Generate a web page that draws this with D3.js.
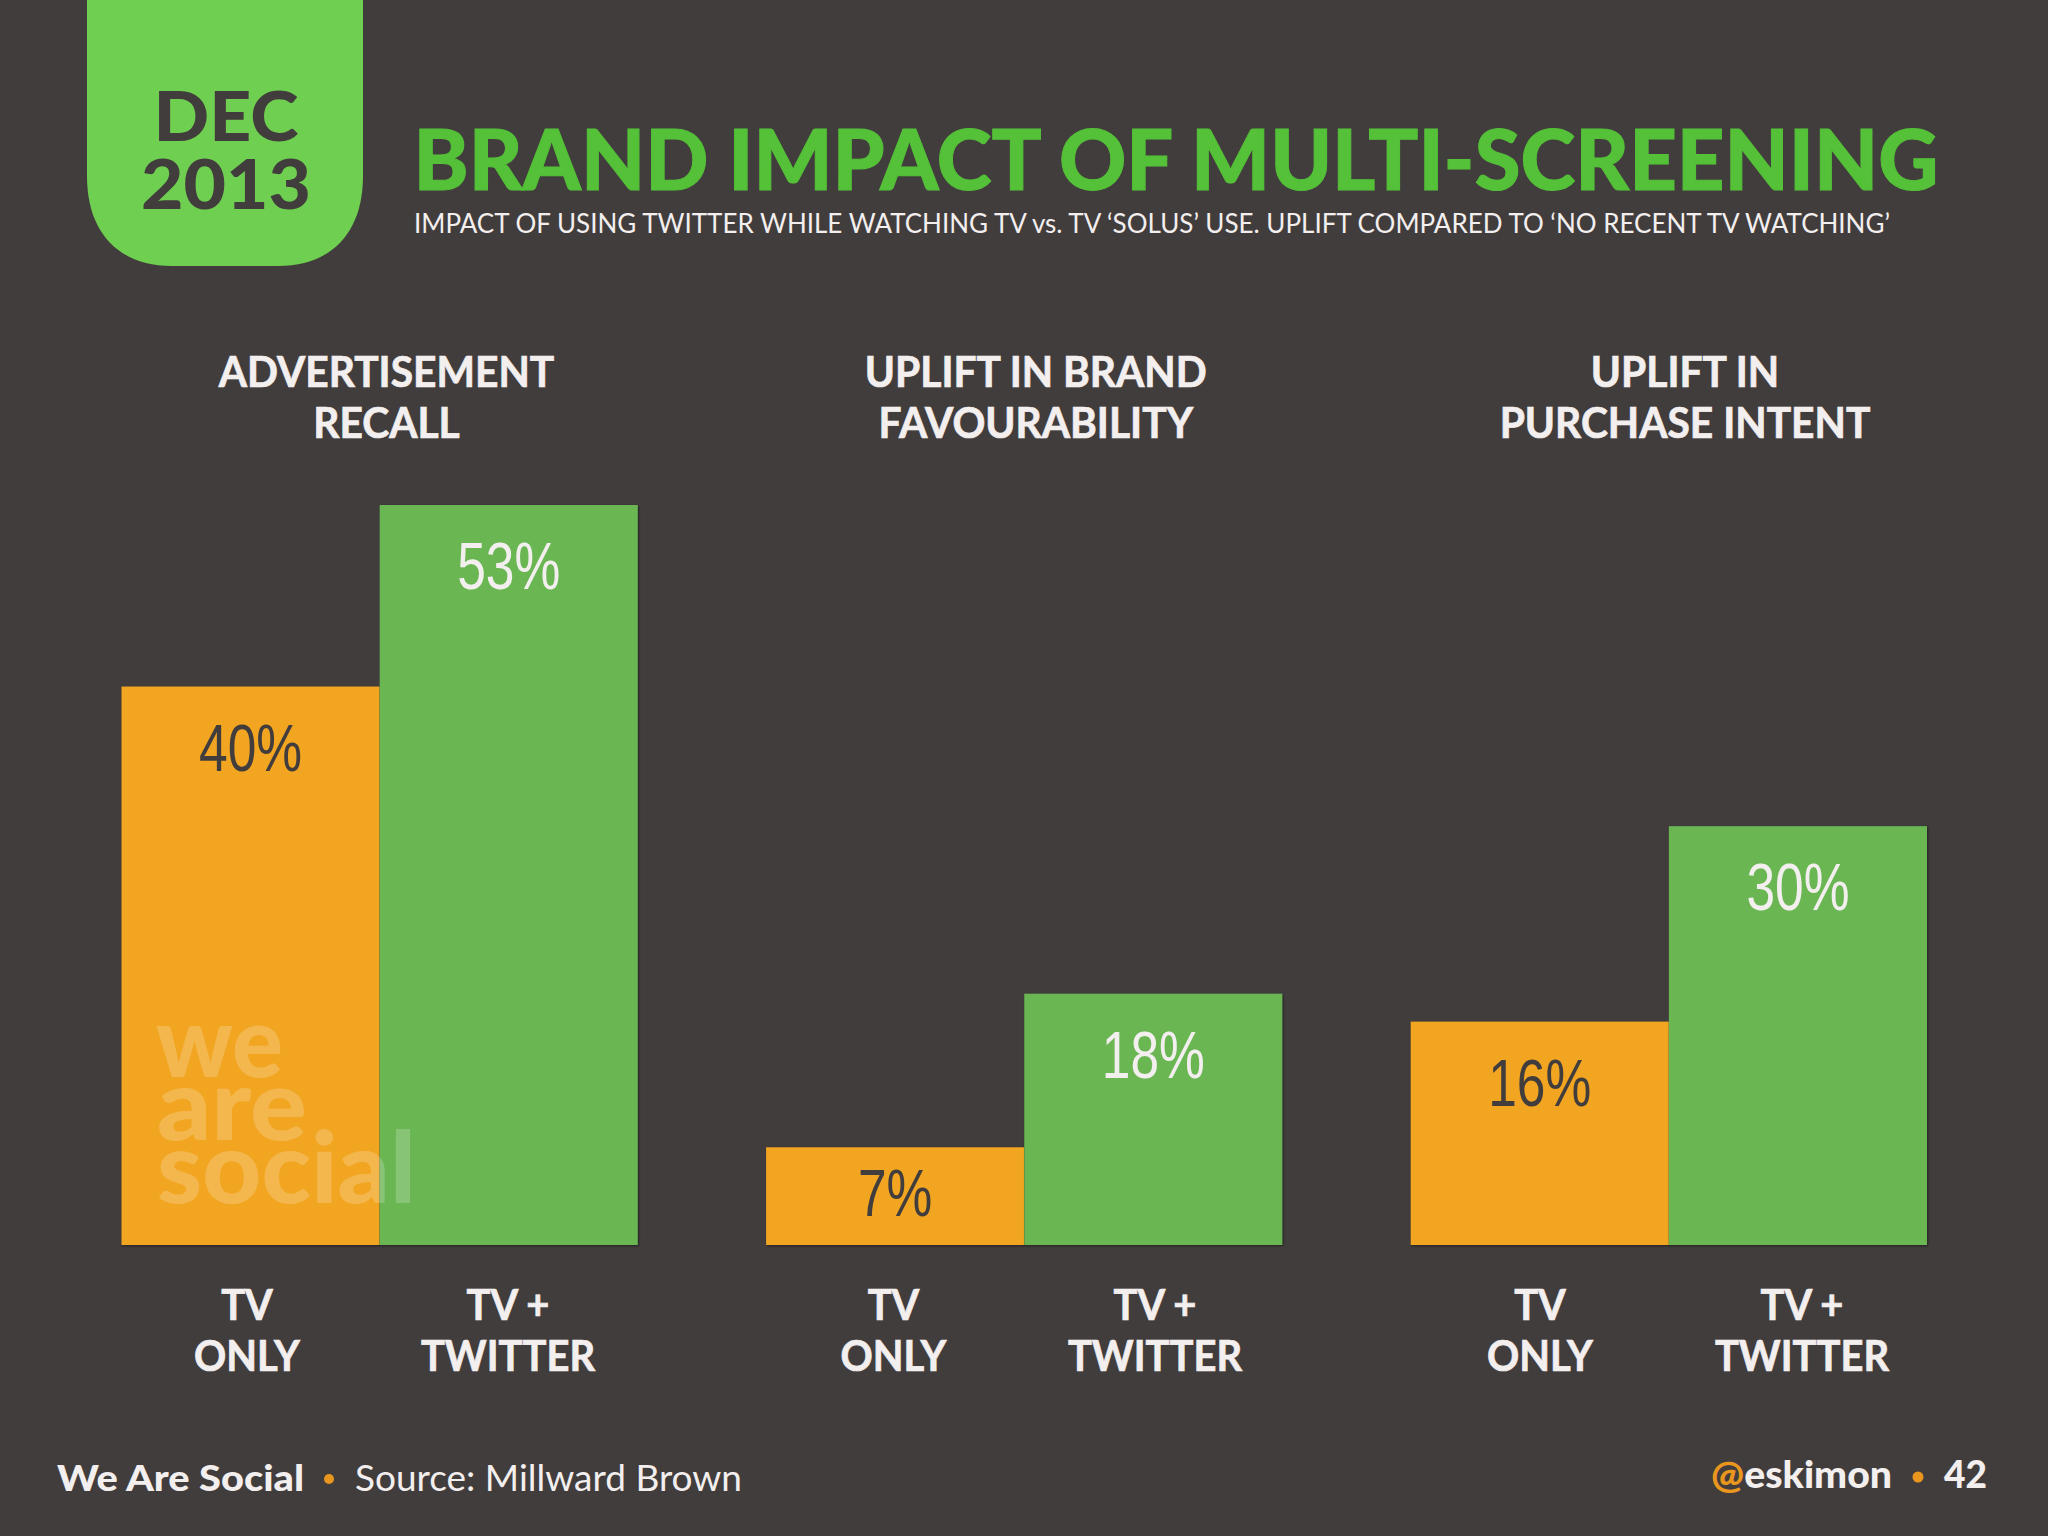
<!DOCTYPE html>
<html>
<head>
<meta charset="utf-8">
<title>Brand impact of multi-screening</title>
<script src="https://cdn.jsdelivr.net/npm/d3@7"></script>
<style>
	html, body { margin: 0; padding: 0; background: #423d3d; }
	svg { display: block; }
	text { font-family: Lato, "Noto Sans", sans-serif; }
	.heading, .tick { font-size: 42px; font-weight: 700; fill: #f3efef; stroke: #f3efef; stroke-width: 0.7px; text-anchor: middle; }
	.value { font-family: "Liberation Sans", sans-serif; font-size: 66px; text-anchor: middle; }
	.bar { filter: drop-shadow(1px 1px 1px rgba(0,0,0,.45)); }
</style>
</head>
<body>
<svg id="chart" width="2048" height="1536"></svg>
<script>
var panels     = ["recall", "favourability", "purchase"];
var headings   = [["ADVERTISEMENT", "RECALL"], ["UPLIFT IN BRAND", "FAVOURABILITY"], ["UPLIFT IN", "PURCHASE INTENT"]];
var categories = ["tv", "twitter"];
var catLabels  = [["TV", "ONLY"], ["TV +", "TWITTER"]];
var tvOnly     = [40, 7, 16];
var tvTwitter  = [53, 18, 30];

var BG     = "#423d3d";
var ORANGE = "#f2a521";
var GREEN  = "#69b653";
var LIGHT  = "#f3efef";

var svg = d3.select("#chart");
svg.append("rect").attr("width", 2048).attr("height", 1536).attr("fill", BG);

var panelX   = d3.scaleBand().domain(panels).range([121.5, 1927]).paddingInner(0.199);
var barX     = d3.scaleBand().domain(categories).range([0, panelX.bandwidth()]);
var y        = d3.scaleLinear().domain([0, 53]).range([1245, 505]);
// headings and labels sit on a slightly wider pitch than the bars
var headingX = d3.scalePoint().domain(panels).range([386.5, 1685]);
var tickX    = {
	tv:      d3.scalePoint().domain(panels).range([247, 1540]),
	twitter: d3.scalePoint().domain(panels).range([508, 1802])
};

// date tab
svg.append("path")
	.attr("d", "M87,0V176C87,232 118,266 172,266H278C332,266 363,232 363,176V0Z")
	.attr("fill", "#6fcf50");
label("DEC", 226, 141, {size: 68, weight: 900, fill: BG, anchor: "middle", fit: 145});
label("2013", 226, 209, {size: 68, weight: 900, fill: BG, anchor: "middle", fit: 170});

// title
label("BRAND IMPACT OF MULTI-SCREENING", 413.5, 190, {size: 84, weight: 900, fill: "#54c138", fit: 1525})
	.attr("stroke", "#54c138").attr("stroke-width", 1);
label("IMPACT OF USING TWITTER WHILE WATCHING TV vs. TV \u2018SOLUS\u2019 USE. UPLIFT COMPARED TO \u2018NO RECENT TV WATCHING\u2019",
	414, 233, {size: 27, weight: 400, fill: LIGHT, fit: 1476});

// one group per panel
var groups = svg.selectAll("g.panel").data(panels).enter().append("g")
	.attr("class", "panel")
	.attr("transform", function(d) { return "translate(" + panelX(d) + ",0)"; });

groups.each(function(d, i) {
	var g = d3.select(this);
	var values = [tvOnly[i], tvTwitter[i]];

	g.selectAll("rect").data(categories).enter().append("rect")
		.attr("class", "bar")
		.attr("x", function(c) { return barX(c); })
		.attr("y", function(c, j) { return y(values[j]); })
		.attr("width", barX.bandwidth())
		.attr("height", function(c, j) { return y(0) - y(values[j]); })
		.attr("fill", function(c, j) { return j === 0 ? ORANGE : GREEN; });

	g.selectAll("text.value").data(categories).enter().append("text")
		.attr("class", "value")
		.attr("x", function(c) { return barX(c) + barX.bandwidth() / 2; })
		.attr("y", function(c, j) { return y(values[j]) + Math.min(84, (y(0) - y(values[j])) * 0.7); })
		.attr("fill", function(c, j) { return j === 0 ? BG : LIGHT; })
		.text(function(c, j) { return values[j] + "%"; })
		.call(squeeze, 0.78);
});

// labels on top of the panels, in page coordinates
panels.forEach(function(p, i) {
	headings[i].forEach(function(line, k) {
		svg.append("text").attr("class", "heading")
			.attr("x", headingX(p))
			.attr("y", 387 + k * 51)
			.text(line)
			.call(squeeze, 0.97);
	});
	categories.forEach(function(c, j) {
		catLabels[j].forEach(function(line, k) {
			svg.append("text").attr("class", "tick")
				.attr("x", tickX[c](p))
				.attr("y", 1320 + k * 51)
				.text(line)
				.call(squeeze, 0.95);
		});
	});
});

// watermark
var mark = svg.append("g").attr("fill", "#fff").attr("opacity", 0.2);
label("we", 156, 1077, {size: 100, weight: 900, parent: mark, fit: 127});
label("are", 157, 1140, {size: 100, weight: 900, parent: mark, fit: 150});
label("social", 157, 1203, {size: 100, weight: 900, parent: mark, fit: 259});

// footer
label("We Are Social", 57, 1491, {size: 36, weight: 900, fill: LIGHT, fit: 247});
svg.append("circle").attr("cx", 329).attr("cy", 1479).attr("r", 5).attr("fill", "#e8961e");
label("Source: Millward Brown", 355, 1491, {size: 36, weight: 400, fill: LIGHT, fit: 387});
var handle = label("", 1711, 1488, {size: 38, weight: 900, fill: LIGHT, fit: 181});
handle.append("tspan").attr("fill", "#e8961e").text("@");
handle.append("tspan").text("eskimon");
svg.append("circle").attr("cx", 1918).attr("cy", 1477).attr("r", 5.5).attr("fill", "#e8961e");
label("42", 1944, 1488, {size: 38, weight: 900, fill: LIGHT, fit: 43});

function label(str, x, yPos, o) {
	var t = (o.parent || svg).append("text")
		.attr("x", x).attr("y", yPos)
		.style("font-size", o.size + "px")
		.style("font-weight", o.weight)
		.text(str);
	if(o.fill) t.attr("fill", o.fill);
	if(o.anchor) t.attr("text-anchor", o.anchor);
	if(o.fit) t.attr("textLength", o.fit).attr("lengthAdjust", "spacingAndGlyphs");
	return t;
}

function squeeze(sel, k) {
	sel.each(function() {
		d3.select(this)
			.attr("textLength", this.getComputedTextLength() * k)
			.attr("lengthAdjust", "spacingAndGlyphs");
	});
}
</script>
</body>
</html>
